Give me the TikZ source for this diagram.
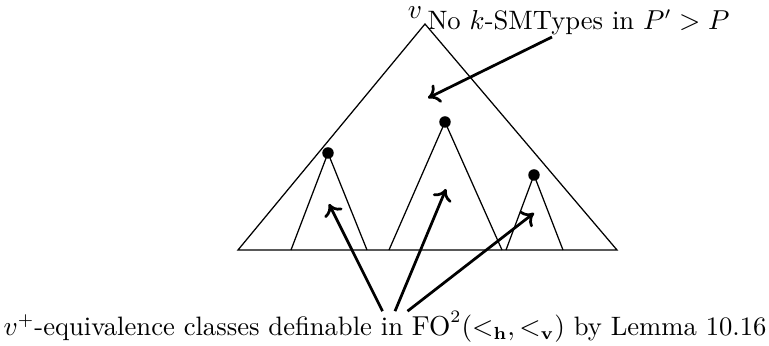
\documentclass[tikz,border=0pt]{standalone}
\usetikzlibrary{arrows.meta}
\begin{document}
\begin{tikzpicture}[x=0.4pt, y=-0.4pt,
    tri/.style={draw, line width=0.5pt},
    dot/.style={circle, fill=black, inner sep=0pt, minimum size=4.6pt},
    lbl/.style={inner sep=0pt, font=\fontsize{10.65}{13}\selectfont},
    pointer/.style={line width=1.1pt, -{To[length=4.5pt, width=8pt]}}]
  \useasboundingbox (0,0) rectangle (769,346);
  % outer tree
  \draw[tri] (425,24) -- (238,250) -- (617,250) -- cycle;
  % subtrees
  \node[dot] (sl) at (328,153) {};
  \node[dot] (sm) at (445,122) {};
  \node[dot] (sr) at (534,175) {};
  \draw[tri] (291,250) -- (sl.center) -- (367,250);
  \draw[tri] (389,250) -- (sm.center) -- (502,250);
  \draw[tri] (506,250) -- (sr.center) -- (563,250);
  % labels
  \node[lbl] (root) at (415,13) {$v$};
  \node[lbl, anchor=west] (none) at (427,22) {No $k$-SMTypes in $P'>P$};
  \node[lbl] (classes) at (385,327) {$v^{+}$-equivalence classes definable in $\mathrm{FO}^2(<_{\mathbf{h}},<_{\mathbf{v}})$ by Lemma 10.16};
  \coordinate (gap) at (428,98);
  \coordinate (inl) at (329,204);
  \coordinate (inm) at (446,189);
  \coordinate (inr) at (534,213);
  % pointers
  \draw[pointer] ([xshift=-1pt]classes.north) -- (inl);
  \draw[pointer] ([xshift=4pt]classes.north) -- (inm);
  \draw[pointer] ([xshift=9pt]classes.north) -- (inr);
  \draw[pointer] (552,37) -- (gap);
\end{tikzpicture}
\end{document}
